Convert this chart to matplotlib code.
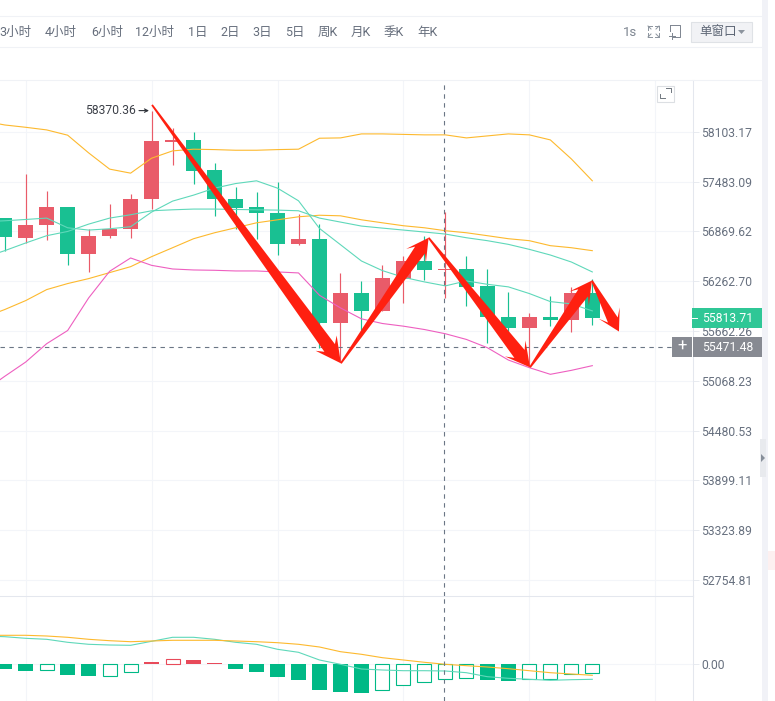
import numpy as np
import matplotlib
matplotlib.use("Agg")
import matplotlib.pyplot as plt
from matplotlib.patches import Polygon, Rectangle

plt.rcParams['font.family'] = ['Roboto', 'Noto Sans CJK SC', 'DejaVu Sans']

# K线数据
opens = [57038, 56793, 56943, 57173, 56590, 56810, 56895, 57263, 57982, 58003, 57630, 57271, 57173, 57099, 56712,
         56781, 55757, 56126, 55909, 56295, 56513, 56396, 56416, 56210, 55837, 55705, 55837, 55801, 56126]
highs = [57040, 57580, 57373, 57175, 56900, 57210, 57333, 58370.36, 58149, 58103, 57713, 57419, 57361, 57485, 57087,
         56960, 56368, 56271, 56456, 56574, 56809, 57108, 56574, 56408, 56134, 55881, 56089, 56195, 56291]
lows = [56635, 56729, 56769, 56465, 56371, 56785, 56785, 57145, 57688, 57460, 57062, 56900, 56778, 56577, 56699,
        55463, 55288, 55673, 55909, 56001, 56283, 56061, 55961, 55514, 55645, 55244, 55729, 55649, 55741]
closes = [56797, 56952, 57173, 56590, 56818, 56903, 57271, 57990, 58003, 57621, 57263, 57164, 57091, 56712, 56781,
          55757, 56126, 55909, 56307, 56513, 56396, 56416, 56198, 55829, 55705, 55837, 55801, 56126, 55813.71]

# 均线和布林带,第一个点在画面左边外面
band_upper = [58240, 58190, 58161, 58128, 58062, 57841, 57639, 57589, 57775, 57866, 57887, 57882, 57874, 57874, 57882,
              57887, 58024, 58028, 58078, 58078, 58072, 58066, 58066, 58028, 58053, 58078, 58066, 58003, 57766, 57494]
band_mid = [55825, 55921, 56029, 56162, 56235, 56295, 56368, 56440, 56562, 56671, 56781, 56854, 56915, 56976, 57013,
            57050, 57069, 57062, 57013, 56976, 56940, 56915, 56879, 56854, 56818, 56781, 56757, 56696, 56671, 56635]
ma_fast = [56989, 57001, 57017, 57034, 56915, 56887, 56903, 56928, 57108, 57243, 57317, 57403, 57460, 57494, 57403,
           57247, 56907, 56708, 56509, 56392, 56311, 56255, 56207, 56267, 56226, 56195, 56114, 56017, 55989, 55905]
ma_slow = [56549, 56635, 56729, 56818, 56870, 56960, 57034, 57075, 57124, 57136, 57145, 57145, 57140, 57136, 57132,
           57124, 57034, 56985, 56936, 56911, 56887, 56863, 56838, 56793, 56757, 56712, 56651, 56582, 56497, 56376]
band_lower = [54945, 55122, 55292, 55511, 55669, 56061, 56384, 56546, 56456, 56412, 56400, 56396, 56388, 56388, 56376,
              56364, 56093, 55941, 55809, 55753, 55721, 55681, 55630, 55562, 55463, 55316, 55225, 55146, 55193, 55249]

# 副图 MACD
macd_hist = [-5, -7, -5.7, -11, -12, -11.7, -7.7, 2, 4.7, 4, 1, -5, -8, -13, -16,
             -26, -28, -28.7, -25.7, -20.7, -17.7, -14.7, -13.7, -16, -17, -15.3, -14.7, -9.7, -8.7]
macd_hollow = [0, 0, 1, 0, 0, 1, 1, 0, 1, 0, 0, 0, 0, 0, 0,
               0, 0, 0, 1, 1, 1, 1, 1, 0, 0, 1, 1, 1, 1]
dea = [28.7, 28.7, 28.7, 28, 26.7, 24.7, 23.3, 22.3, 23, 23.7, 23.7, 23.7, 23, 22.3, 21.3,
       19.7, 17, 12.3, 9.7, 6.3, 4, 1.7, -0.3, -1.7, -3, -4.7, -6.7, -8.7, -10, -11.3]
dif = [28, 27.3, 25.7, 24.7, 21.7, 19.7, 19, 18.7, 22.7, 26.7, 26.7, 24.7, 21.7, 19.7, 14.7,
       11.7, 4, -0.3, -5, -6, -6.7, -6.7, -7, -8.7, -12.7, -14.3, -15.3, -16.3, -15.7, -15.3]

price_ticks = [58103.17, 57483.09, 56869.62, 56262.70, 55662.26, 55068.23, 54480.53, 53899.11, 53323.89, 52754.81]
last_price = 55813.71
cross_price = 55471.48
cross_index = 20.95

periods = ['3小时', '4小时', '6小时', '12小时', '1日', '2日', '3日', '5日', '周K', '月K', '季K', '年K']
period_x = [15.5, 61, 107, 155, 198, 230, 262, 295, 328, 361, 394, 427]

# 手画的红箭头折线
arrow_idx = [7.02, 16.02, 20.2, 25.03, 27.98, 29.27]
arrow_price = [58442, 55277, 56793, 55229, 56271, 55657]

GREEN = '#19c092'
RED = '#e95b69'
GRID = '#f3f5f9'
TEXT = '#67707f'

W, H = 775, 701
fig = plt.figure(figsize=(W / 100, H / 100), dpi=100)
AX_R = 692.5


def make_axes(top, bottom):
    return fig.add_axes([0, 1 - bottom / H, AX_R / W, (bottom - top) / H])


ax = make_axes(80, 596)
ax2 = make_axes(596, 701)
idx = np.arange(len(closes))
line_idx = np.arange(-1, len(closes))
px_step = 20.986
xlim = ((0 - 4.7) / px_step, (AX_R - 4.7) / px_step)

# 主图
ax.set_yscale('log')
ax.set_xlim(xlim)
ax.set_ylim(52573.6, 58756.6)
for i, o, h, l, c in zip(idx, opens, highs, lows, closes):
    col = RED if c >= o else GREEN
    ax.vlines(i, l, h, color=col, lw=0.85, zorder=3)
    ax.bar(i, abs(c - o), bottom=min(o, c), width=0.715, color=col, lw=0, zorder=3)

ax.plot(line_idx, band_upper, color='#fdb92e', lw=0.8, zorder=4)
ax.plot(line_idx, band_mid, color='#fdb92e', lw=0.8, zorder=4)
ax.plot(line_idx, ma_fast, color='#5fd8ba', lw=0.8, zorder=4)
ax.plot(line_idx, ma_slow, color='#5fd8ba', lw=0.8, zorder=4)
ax.plot(line_idx, band_lower, color='#ee5fc0', lw=0.8, zorder=4)

ax.set_yticks(price_ticks)
ax.set_yticklabels(['%.2f' % p for p in price_ticks])
ax.yaxis.set_minor_locator(matplotlib.ticker.NullLocator())
ax.yaxis.set_minor_formatter(matplotlib.ticker.NullFormatter())

# 副图
ax2.set_xlim(xlim)
ax2.set_ylim(-37, 68)
for i, v, hollow in zip(idx, macd_hist, macd_hollow):
    col = '#e84a5a' if v > 0 else '#00b986'
    if hollow:
        ax2.bar(i, v, width=0.67, facecolor='white', edgecolor=col, lw=0.8, zorder=3)
    else:
        ax2.bar(i, v, width=0.715, color=col, lw=0, zorder=3)
ax2.plot(line_idx, dif, color='#5fd8ba', lw=0.8, zorder=4)
ax2.plot(line_idx, dea, color='#fdb92e', lw=0.8, zorder=4)
ax2.set_yticks([0])
ax2.set_yticklabels(['0.00'])

for a in (ax, ax2):
    a.set_xticks([1, 7, 13, 19, 25, 31])
    a.set_xticklabels([])
    a.grid(True, color=GRID, lw=0.75, zorder=0)
    a.set_axisbelow(True)
    a.yaxis.tick_right()
    a.tick_params(axis='y', which='major', length=4.3, width=0.7, color='#e8ebf0', pad=2,
                  labelsize=8.7, labelcolor=TEXT)
    a.tick_params(axis='x', length=0)
    for side in ('top', 'left', 'bottom'):
        a.spines[side].set_visible(False)
    a.spines['right'].set_color('#e4e7ee')
    a.spines['right'].set_linewidth(0.75)
    a.axvline(cross_index, color='#6b7685', lw=0.8, ls=(0, (4, 4)), zorder=5)
ax2.spines['top'].set_visible(True)
ax2.spines['top'].set_color('#e4e7ee')
ax2.spines['top'].set_linewidth(0.75)
ax.axhline(cross_price, color='#6b7685', lw=0.8, ls=(0, (4, 4)), zorder=5)

# 界面元素都放在一张像素坐标的透明图层上
ui = fig.add_axes([0, 0, 1, 1], zorder=10)
ui.set_xlim(0, W)
ui.set_ylim(H, 0)
ui.axis('off')
ui.patch.set_alpha(0)


def to_px(i, price):
    dx, dy = ax.transData.transform((i, price))
    return ui.transData.inverted().transform((dx, dy))


def taper_arrow(p0, p1, w, head_len, head_w, neck):
    # 尾部尖,越往头越粗
    p0, p1 = np.array(p0), np.array(p1)
    d = (p1 - p0) / np.hypot(*(p1 - p0))
    n = np.array([-d[1], d[0]])
    s = p1 - d * neck
    b = p1 - d * head_len
    pts = [p0 + n * 0.9, s + n * w, b + n * head_w, p1, b - n * head_w, s - n * w, p0 - n * 0.9]
    ui.add_patch(Polygon(pts, closed=True, fc='#ff2010', ec='none', zorder=6))


arrow_style = [(6.5, 25, 13, 19), (6, 22, 12, 15), (6.5, 24, 13, 17), (6, 22, 12, 15), (5.5, 21, 12, 13)]
pts_px = [to_px(i, p) for i, p in zip(arrow_idx, arrow_price)]
for k, st in enumerate(arrow_style):
    taper_arrow(pts_px[k], pts_px[k + 1], *st)

# 顶部工具栏
for y in (16, 47, 80):
    ui.plot([0, 762], [y, y], color='#f0f2f6', lw=0.75)
for label, x in zip(periods, period_x):
    ui.text(x, 32.5, label, ha='center', va='center', fontsize=9, color='#666e7c')
ui.text(630, 32, '1s', ha='center', va='center', fontsize=9.5, color='#7d8590')

# 全屏和加号图标
for cx, cy, sx, sy in [(648, 26, 1, 1), (659, 26, -1, 1), (648, 37, 1, -1), (659, 37, -1, -1)]:
    ui.plot([cx, cx + 4 * sx], [cy, cy], color='#8c949e', lw=0.7)
    ui.plot([cx, cx], [cy, cy + 4 * sy], color='#8c949e', lw=0.7)
    ui.plot([cx, cx + 3 * sx], [cy, cy + 3 * sy], color='#8c949e', lw=0.7)
ui.plot([670, 680, 680, 673], [25, 25, 37, 37], color='#7d8590', lw=0.7)
ui.plot([670, 670], [25, 31], color='#7d8590', lw=0.7)
ui.plot([669, 675], [36, 36], color='#7d8590', lw=0.7)
ui.plot([672, 672], [33, 39], color='#7d8590', lw=0.7)

ui.add_patch(Rectangle((691, 22), 61, 19.5, fc='#f1f2f5', ec='#dfe2e6', lw=0.8))
ui.text(699, 32, '单窗口', ha='left', va='center', fontsize=9, color='#5e6776')
ui.add_patch(Polygon([(738, 30), (745, 30), (741.5, 34)], fc='#8c949e', ec='none'))

# 主图右上角放大按钮
ui.add_patch(Rectangle((656.5, 85.5), 17, 16, fc='white', ec='#dcdfe3', lw=0.8))
ui.plot([666, 670.5, 670.5], [88, 88, 92], color='#70777f', lw=0.7)
ui.plot([660, 660, 664.5], [94, 98, 98], color='#70777f', lw=0.7)

# 最高价标注
high_px = to_px(7, highs[7])
ui.text(136, high_px[1], '%.2f' % highs[7], ha='right', va='center', fontsize=8.7, color='#3c4048')
ui.annotate('', xy=(149, high_px[1]), xytext=(139, high_px[1]),
            arrowprops=dict(arrowstyle='->', color='#2b2f36', lw=0.8, shrinkA=0, shrinkB=0, mutation_scale=6))

# 现价和十字线价格标签
last_y = to_px(0, last_price)[1]
cross_y = to_px(0, cross_price)[1]
ui.add_patch(Rectangle((692, last_y - 10), 70, 20, fc='#2fc796', ec='none', zorder=7))
ui.plot([692, 697], [last_y, last_y], color='white', lw=0.7, zorder=8)
ui.text(702, last_y, '%.2f' % last_price, ha='left', va='center', fontsize=8.7, color='white', zorder=8)
ui.add_patch(Rectangle((672, cross_y - 10), 20, 20, fc='#878a92', ec='none', zorder=7))
ui.add_patch(Rectangle((693, cross_y - 10), 69, 20, fc='#878a92', ec='none', zorder=7))
ui.text(682, cross_y - 0.5, '+', ha='center', va='center', fontsize=12, color='white', zorder=8)
ui.text(702, cross_y, '%.2f' % cross_price, ha='left', va='center', fontsize=8.7, color='white', zorder=8)

# 右边灰条
ui.add_patch(Rectangle((762, 0), 6, H, fc='#f1f2f7', ec='none', zorder=6))
ui.add_patch(Rectangle((760, 439), 6, 38, fc='#e8eaee', ec='none', zorder=7))
ui.add_patch(Polygon([(761, 454), (765, 458), (761, 462)], fc='#868e99', ec='none', zorder=8))
ui.add_patch(Rectangle((768, 551), 7, 19, fc='#fdf0f0', ec='none', zorder=6))

fig.savefig('out.png', dpi=100)
